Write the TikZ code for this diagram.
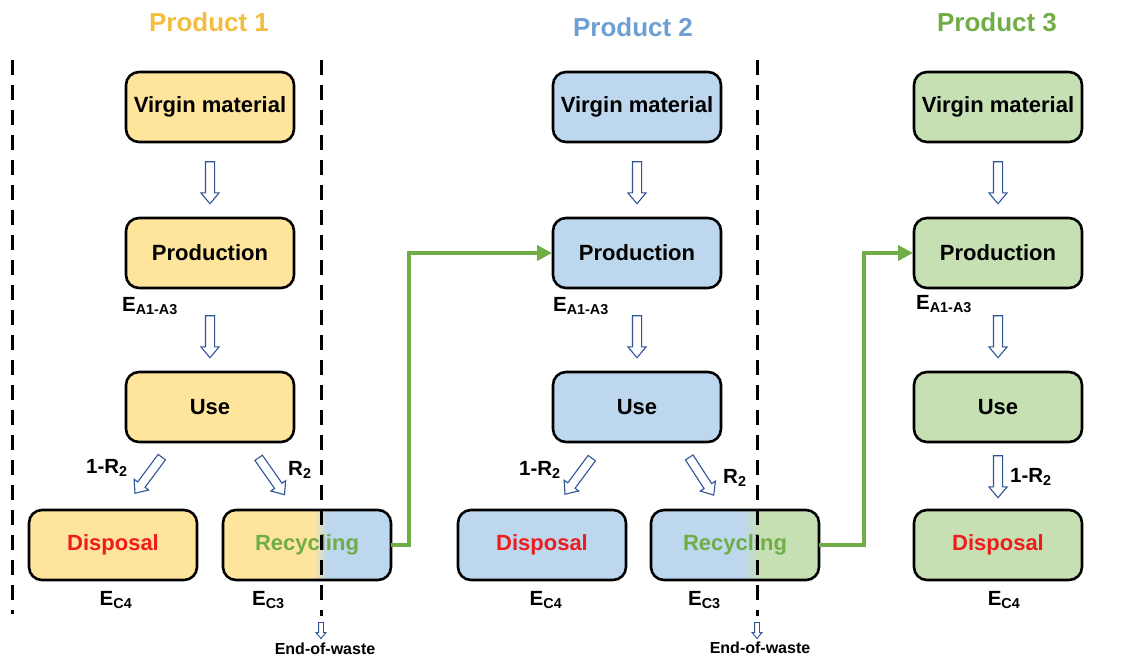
\documentclass[tikz,border=0pt]{standalone}
\usepackage{fontspec}
\setmainfont{Liberation Sans}
\usetikzlibrary{shapes.arrows,arrows.meta}
\definecolor{fillA}{HTML}{FFE59C}
\definecolor{fillB}{HTML}{BDD7EE}
\definecolor{fillC}{HTML}{C6E0B4}
\definecolor{titleA}{HTML}{F3BD3F}
\definecolor{titleB}{HTML}{6C9FD2}
\definecolor{titleC}{HTML}{70AD47}
\definecolor{flowgreen}{HTML}{70AD47}
\definecolor{outblue}{HTML}{2F5597}
\definecolor{dispred}{HTML}{EE1C1C}
\newcommand{\sizept}[1]{\fontsize{#1}{#1}\selectfont}

\begin{document}
\begin{tikzpicture}[x=1pt,y=-1pt,
  box/.style={rectangle, rounded corners=13pt, draw=black, line width=2.6pt,
    minimum width=168pt, minimum height=70pt, inner sep=0pt, outer sep=0pt,
    font=\sizept{22}\bfseries},
  boxA/.style={box, fill=fillA},
  boxB/.style={box, fill=fillB},
  boxC/.style={box, fill=fillC},
  title/.style={font=\sizept{26}\bfseries, inner sep=0pt},
  lab/.style={font=\sizept{20.5}\bfseries, inner sep=0pt},
  eow/.style={font=\sizept{16}\bfseries, inner sep=0pt},
  hollow/.style={single arrow, draw=outblue, fill=white, line width=1.1pt,
    inner xsep=0pt, inner ysep=4pt, minimum height=42pt,
    single arrow head extend=4.5pt, single arrow tip angle=80},
  tinyarrow/.style={single arrow, draw=outblue, fill=white, line width=0.9pt,
    inner xsep=0pt, inner ysep=2pt, minimum height=16pt,
    single arrow head extend=2.5pt, single arrow tip angle=80},
  flow/.style={draw=flowgreen, line width=4pt,
    -{Triangle[length=15pt,width=15pt]}, shorten >=1pt},
  border/.style={draw=black, line width=3pt, dash pattern=on 15pt off 10pt},
]
\useasboundingbox (0,0) rectangle (1133,656);

% column titles
\node[title, text=titleA] (t1) at (209,22) {Product 1};
\node[title, text=titleB] (t2) at (633,27) {Product 2};
\node[title, text=titleC] (t3) at (997,22) {Product 3};

% split fills of the two recycling boxes
\begin{scope}
  \clip[rounded corners=13pt] (223,510) rectangle (391,580);
  \fill[fillA] (215,500) rectangle (313,590);
  \shade[left color=fillA, right color=fillB] (313,500) rectangle (327,590);
  \fill[fillB] (327,500) rectangle (400,590);
\end{scope}
\begin{scope}
  \clip[rounded corners=13pt] (651,510) rectangle (819,580);
  \fill[fillB] (640,500) rectangle (743,590);
  \shade[left color=fillB, right color=fillC] (743,500) rectangle (759,590);
  \fill[fillC] (759,500) rectangle (830,590);
\end{scope}

% product 1
\node[boxA] (vm1) at (210,107) {Virgin material};
\node[boxA] (pr1) at (210,253) {Production};
\node[boxA] (us1) at (210,407) {Use};
\node[boxA, text=dispred] (di1) at (113,545) {Disposal};
\node[box, text=flowgreen] (re1) at (307,545) {Recycling};

% product 2
\node[boxB] (vm2) at (637,107) {Virgin material};
\node[boxB] (pr2) at (637,253) {Production};
\node[boxB] (us2) at (637,407) {Use};
\node[boxB, text=dispred] (di2) at (542,545) {Disposal};
\node[box, text=flowgreen] (re2) at (735,545) {Recycling};

% product 3
\node[boxC] (vm3) at (998,107) {Virgin material};
\node[boxC] (pr3) at (998,253) {Production};
\node[boxC] (us3) at (998,407) {Use};
\node[boxC, text=dispred] (di3) at (998,545) {Disposal};

% hollow flow arrows
\node[hollow, rotate=-90] (a11) at (210,180) {};
\node[hollow, rotate=-90] (a12) at (210,334) {};
\node[hollow, rotate=-126.6, minimum height=45pt] (a13) at (150,473) {};
\node[hollow, rotate=-55, minimum height=45pt] (a14) at (270,474) {};
\node[hollow, rotate=-90] (a21) at (637,180) {};
\node[hollow, rotate=-90] (a22) at (637,334) {};
\node[hollow, rotate=-126.6, minimum height=45pt] (a23) at (580,474) {};
\node[hollow, rotate=-57, minimum height=45pt] (a24) at (700,474) {};
\node[hollow, rotate=-90] (a31) at (998,180) {};
\node[hollow, rotate=-90] (a32) at (998,334) {};
\node[hollow, rotate=-90] (a33) at (998,474) {};

% flow labels
\node[lab, anchor=base west] (l13) at (86,473) {1-R\textsubscript{2}};
\node[lab, anchor=base west] (l14) at (288,475) {R\textsubscript{2}};
\node[lab, anchor=base west] (l23) at (519,475) {1-R\textsubscript{2}};
\node[lab, anchor=base west] (l24) at (723,483) {R\textsubscript{2}};
\node[lab, anchor=base west] (l33) at (1010,482) {1-R\textsubscript{2}};

% impact labels
\node[lab, anchor=base west] (e1) at (122,311) {E\textsubscript{A1-A3}};
\node[lab, anchor=base west] (e2) at (553,311) {E\textsubscript{A1-A3}};
\node[lab, anchor=base west] (e3) at (916,309) {E\textsubscript{A1-A3}};
\node[lab, anchor=base] (c41) at (116,605) {E\textsubscript{C4}};
\node[lab, anchor=base] (c42) at (546,605) {E\textsubscript{C4}};
\node[lab, anchor=base] (c43) at (1004,605) {E\textsubscript{C4}};
\node[lab, anchor=base west] (c31) at (252,605) {E\textsubscript{C3}};
\node[lab, anchor=base west] (c32) at (688,605) {E\textsubscript{C3}};

% recycled material feeding the next product
\draw[flow] (re1.east) -- ++(18,0) |- (pr2.west);
\draw[flow] (re2.east) -- ++(45,0) |- (pr3.west);

% system boundaries
\coordinate (b0t) at (12,60);  \coordinate (b0b) at (12,614);
\coordinate (b1t) at (321,60); \coordinate (b1b) at (321,616);
\coordinate (b2t) at (757,60); \coordinate (b2b) at (757,616);
\draw[border] (b0t) -- (b0b);
\draw[border] (b1t) -- (b1b);
\draw[border] (b2t) -- (b2b);

% end-of-waste points
\node[tinyarrow, rotate=-90] (w1) at (321,629) {};
\node[tinyarrow, rotate=-90] (w2) at (757,629) {};
\node[eow, anchor=base] (n1) at (325,654) {End-of-waste};
\node[eow, anchor=base] (n2) at (760,653) {End-of-waste};
\end{tikzpicture}
\end{document}
